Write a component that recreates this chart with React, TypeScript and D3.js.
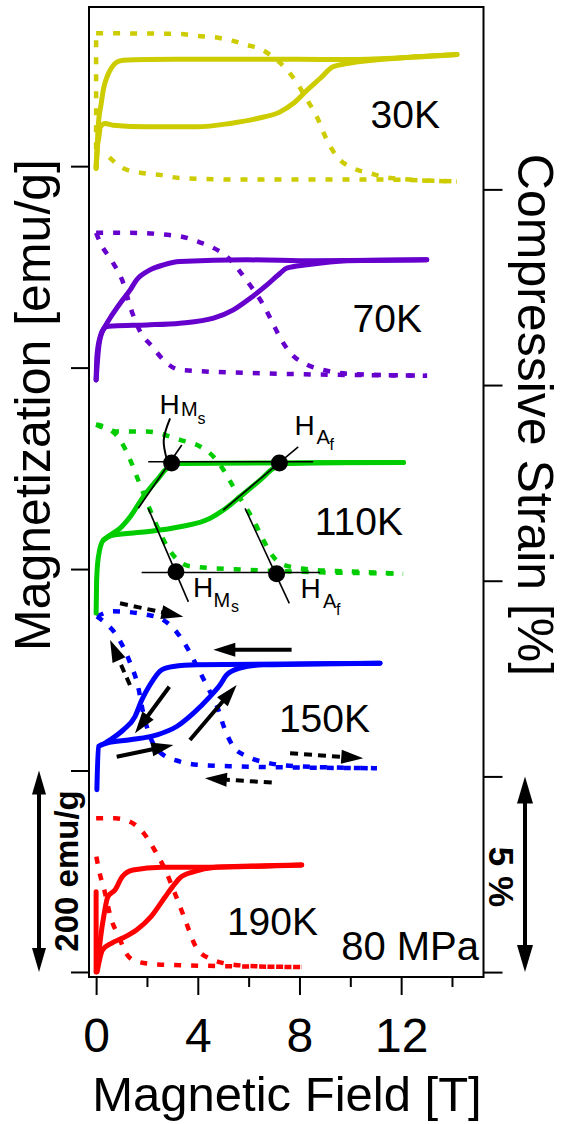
import React, { useEffect, useRef } from 'react';
import * as d3 from 'd3';

type Pt = [number, number];

// categories / offsets
const temperatures = ['30K', '70K', '110K', '150K', '190K'];
const colors = ['#cccc00', '#6600cc', '#00cc00', '#0000ff', '#ff0000'];
const magOffsets = [800, 600, 400, 200, 0]; // emu/g, stacked
const strainOffsets = [20, 15, 10, 5, 0]; // %, stacked

// ticks
const fieldMajor = [0, 4, 8, 12];
const fieldMinor = [2, 6, 10, 14];
const magTicks = [0, 200, 400, 600, 800];
const strainTicks = [0, 5, 10, 15, 20];

// magnetization [field T, M emu/g] (relative to offset)
const mag30Up: Pt[] = [[0, -2.3], [0.04, 15.9], [0.12, 30.8], [0.16, 38.7], [0.35, 42.4], [0.67, 40.7], [2.0, 39.0], [3.97, 39.0], [5.27, 42.4], [6.33, 47.3], [7.24, 53.9], [7.75, 62.2], [8.3, 75.4], [8.81, 87.0], [9.32, 98.6], [9.87, 101.9], [11.17, 105.9], [12.47, 108.5], [14.2, 110.9]];
const mag30Down: Pt[] = [[14.2, 110.9], [9.87, 105.9], [5.94, 106.2], [2.0, 105.9], [1.06, 105.2], [0.83, 103.5], [0.63, 98.6], [0.43, 88.6], [0.28, 75.4], [0.2, 62.2], [0.08, 39.0], [0.04, 15.9], [0, -2.3]];
const mag70Up: Pt[] = [[0, -12.2], [0.09, 17.6], [0.22, 34.2], [0.42, 40.8], [0.68, 41.4], [1.99, 42.4], [3.3, 44.1], [4.62, 49.1], [5.4, 57.3], [6.06, 68.8], [6.72, 82.1], [7.24, 93.7], [7.5, 98.7], [8.3, 102.0], [9.87, 106.0], [13.01, 107.0]];
const mag70Down: Pt[] = [[13.01, 107.0], [8.55, 106.0], [5.93, 107.0], [3.3, 105.3], [2.65, 102.0], [2.12, 97.0], [1.59, 87.0], [1.34, 77.1], [0.94, 63.7], [0.62, 52.0], [0.35, 40.8], [0.16, 30.9], [0.03, 10.9], [0, -12.2]];
const mag110Up: Pt[] = [[0, -43.7], [0.02, -10.9], [0.09, 12.2], [0.29, 28.8], [0.68, 33.7], [1.99, 37.0], [3.3, 42.0], [4.48, 50.3], [5.01, 58.6], [5.66, 71.8], [6.45, 88.3], [6.97, 99.9], [7.5, 104.9], [9.86, 105.9], [12.09, 105.9]];
const mag110Down: Pt[] = [[12.09, 105.9], [3.3, 104.9], [2.78, 99.9], [2.39, 88.3], [1.86, 71.8], [1.34, 51.9], [0.94, 40.4], [0.55, 33.7], [0.29, 28.8]];
const mag150Up: Pt[] = [[0.03, -19.1], [0.09, 23.8], [0.42, 27.2], [1.34, 30.5], [2.39, 35.4], [3.17, 43.7], [3.83, 57.0], [4.48, 73.4], [4.88, 85.1], [5.14, 95.0], [5.66, 101.6], [6.58, 104.9], [11.17, 106.6]];
const mag150Down: Pt[] = [[11.17, 106.6], [3.96, 104.9], [3.04, 103.2], [2.58, 99.9], [2.12, 85.1], [1.8, 70.2], [1.53, 53.6], [1.07, 40.4], [0.55, 30.5], [0.35, 27.2]];
const mag190Spike: Pt[] = [[0, 79.7], [0, 0]];
const mag190Up: Pt[] = [[0.04, 0.3], [0.25, 21.8], [0.6, 28.5], [1.02, 33.4], [1.59, 41.7], [2.16, 54.9], [2.72, 74.7], [3.01, 84.7], [3.28, 93.0], [3.85, 99.6], [4.7, 103.9], [6.11, 105.2], [8.09, 106.2]];
const mag190Down: Pt[] = [[8.09, 106.2], [3.99, 103.9], [2.58, 103.9], [1.45, 101.2], [1.03, 94.6], [0.74, 81.4], [0.46, 74.7], [0.32, 58.3], [0.18, 35.0], [0.11, 18.6], [0.01, 0.3]];

// compressive strain [field T, strain %] (relative to offset)
const str30Load: Pt[] = [[0, 0.59], [0, 3.99]];
const str30Up: Pt[] = [[0, 3.99], [3.34, 3.97], [3.98, 3.92], [4.62, 3.89], [5.34, 3.8], [5.93, 3.69], [6.52, 3.57], [6.84, 3.44], [7.5, 3.06], [7.9, 2.72], [8.3, 2.29], [8.68, 1.86], [9.08, 1.26], [9.47, 0.84], [10.12, 0.54], [10.78, 0.41], [11.57, 0.29], [14.19, 0.2]];
const str30Down: Pt[] = [[14.19, 0.2], [11.17, 0.25], [5.93, 0.25], [3.3, 0.29], [2.52, 0.37], [1.8, 0.42], [1.07, 0.54], [0.52, 0.82]];
const str70Up: Pt[] = [[0, 3.89], [1.34, 3.89], [3.3, 3.8], [3.97, 3.67], [4.6, 3.51], [5.15, 3.28], [5.66, 2.9], [6.18, 2.44], [6.53, 2.1], [6.92, 1.62], [7.24, 1.21], [7.63, 0.83], [8.3, 0.52], [8.93, 0.39], [9.87, 0.29], [13.02, 0.24]];
const str70Down: Pt[] = [[13.02, 0.24], [6.5, 0.3], [3.3, 0.39], [2.71, 0.6], [2.2, 0.99], [1.73, 1.37], [1.42, 1.85], [1.02, 2.69], [0.63, 3.16], [0.16, 3.64], [0, 3.89]];
const str110Up: Pt[] = [[0, 3.99], [0.94, 3.81], [2.0, 3.81], [3.3, 3.6], [4.09, 3.43], [4.6, 3.18], [5.0, 2.84], [5.39, 2.41], [5.78, 1.99], [6.18, 1.56], [6.57, 1.05], [6.96, 0.62], [7.36, 0.41], [8.54, 0.28], [9.87, 0.24], [12.08, 0.18]];
const str110Down: Pt[] = [[12.08, 0.18], [5.94, 0.28], [3.7, 0.37], [3.19, 0.54], [2.79, 0.88], [2.4, 1.39], [2.01, 1.99], [1.65, 2.58], [1.34, 3.09], [0.94, 3.6], [0.55, 3.86], [0, 3.99]];
const str150Up: Pt[] = [[0.03, 4.09], [0.67, 4.22], [2.0, 4.13], [2.64, 4.0], [3.19, 3.67], [3.58, 3.29], [3.97, 2.81], [4.37, 2.3], [4.76, 1.79], [5.07, 1.19], [5.39, 0.77], [5.94, 0.51], [6.73, 0.35], [7.91, 0.26], [11.05, 0.21]];
const str150Down: Pt[] = [[11.05, 0.21], [5.27, 0.26], [3.97, 0.3], [3.3, 0.38], [2.52, 0.61], [2.12, 1.02], [1.85, 1.63], [1.65, 2.3], [1.34, 2.9], [0.83, 3.58], [0.35, 3.93], [0.03, 4.09]];
const str190Up: Pt[] = [[0, 3.93], [0.74, 3.93], [1.31, 3.85], [1.87, 3.55], [2.3, 3.12], [2.72, 2.61], [3.15, 1.93], [3.5, 1.34], [3.92, 0.65], [4.42, 0.36], [5.41, 0.19], [6.68, 0.14], [8.09, 0.13]];
const str190Down: Pt[] = [[8.09, 0.13], [2.58, 0.19], [1.59, 0.27], [1.17, 0.49], [0.89, 0.91], [0.6, 1.34], [0.32, 2.1], [0.11, 2.61], [0.01, 2.95]];

const magSeries: Pt[][][] = [
  [mag30Up, mag30Down],
  [mag70Up, mag70Down],
  [mag110Up, mag110Down],
  [mag150Up, mag150Down],
  [mag190Spike, mag190Up, mag190Down],
];
const strainSeries: Pt[][][] = [
  [str30Load, str30Up, str30Down],
  [str70Up, str70Down],
  [str110Up, str110Down],
  [str150Up, str150Down],
  [str190Up, str190Down],
];

// 110K construction lines: [field, value] with absolute M (emu/g) or strain (%)
const hmsMagLine: Pt[] = [[2.05, 506.5], [8.54, 506.5]];
const hmsMagTangents: Pt[][] = [[[1.66, 460.3], [3.37, 523.1]], [[5.0, 458.6], [7.95, 521.4]]];
const hmsMagDots: Pt[] = [[2.97, 505.2], [7.21, 505.2]];
const hmsLeader: Pt[] = [[2.91, 549.6], [2.66, 528], [2.79, 508.2]];
const hmsStrainLine: Pt[] = [[1.79, 10.21], [8.81, 10.21]];
const hmsStrainTangents: Pt[][] = [[[2.05, 11.85], [3.63, 9.46]], [[5.86, 11.85], [7.6, 9.42]]];
const hmsStrainDots: Pt[] = [[3.14, 10.23], [7.1, 10.18]];

// 150K process arrows: from [field, M abs] to [field, M abs]
const arrows: { from: Pt; to: Pt; dashed: boolean }[] = [
  { from: [0.94, 366.0], to: [3.43, 352.7], dashed: true },
  { from: [1.33, 284.9], to: [0.55, 329.6], dashed: true },
  { from: [7.69, 320.0], to: [4.61, 320.0], dashed: false },
  { from: [2.88, 283.2], to: [1.53, 236.9], dashed: false },
  { from: [3.69, 230.3], to: [5.53, 284.9], dashed: false },
  { from: [0.81, 213.7], to: [3.04, 225.4], dashed: false },
  { from: [7.63, 217.1], to: [10.51, 212.1], dashed: true },
  { from: [6.91, 188.0], to: [4.28, 192.3], dashed: true },
];

const FONT = '"Liberation Sans", Arial, Helvetica, sans-serif';

function head(x1: number, y1: number, x2: number, y2: number, len: number, hw: number) {
  const dx = x2 - x1;
  const dy = y2 - y1;
  const d = Math.hypot(dx, dy);
  const ux = dx / d;
  const uy = dy / d;
  const bx = x2 - ux * len;
  const by = y2 - uy * len;
  return {
    base: [bx + ux * 2, by + uy * 2],
    poly: `${x2},${y2} ${bx - uy * hw},${by + ux * hw} ${bx + uy * hw},${by - ux * hw}`,
  };
}

// branches are monotone in field; vertical pieces are drawn straight
function branchPath(b: Pt[], fx: (v: number) => number, fy: (v: number) => number) {
  const vertical = b.every((p) => p[0] === b[0][0]);
  const pts = b[0][0] > b[b.length - 1][0] ? [...b].reverse() : b;
  return (
    d3
      .line<Pt>()
      .x((d) => fx(d[0]))
      .y((d) => fy(d[1]))
      .curve(vertical ? d3.curveLinear : d3.curveMonotoneX)(pts) || ''
  );
}

export default function App() {
  const ref = useRef<SVGSVGElement>(null);
  const width = 564;
  const height = 1124;

  const x = d3.scaleLinear([-0.28, 15.24], [89, 483.5]);
  const yM = d3.scaleLinear([-4, 958], [976, 7]);
  const yS = d3.scaleLinear([-0.1, 24.66], [976, 7]);

  useEffect(() => {
    const svg = d3.select(ref.current);

    const left = svg
      .select('.axis-left')
      .attr('transform', 'translate(89,0)')
      .call(d3.axisLeft(yM).tickValues(magTicks).tickSize(18).tickFormat(() => '') as any);
    left.select('.domain').remove();

    const right = svg
      .select('.axis-right')
      .attr('transform', 'translate(483.5,0)')
      .call(d3.axisRight(yS).tickValues(strainTicks).tickSize(19).tickFormat(() => '') as any);
    right.select('.domain').remove();

    const bottomMinor = svg
      .select('.axis-bottom-minor')
      .attr('transform', 'translate(0,977)')
      .call(d3.axisBottom(x).tickValues(fieldMinor).tickSize(10).tickFormat(() => '') as any);
    bottomMinor.select('.domain').remove();

    const bottom = svg
      .select('.axis-bottom')
      .attr('transform', 'translate(0,977)')
      .call(d3.axisBottom(x).tickValues(fieldMajor).tickSize(18).tickPadding(23).tickFormat(d3.format('d')) as any);
    bottom.select('.domain').remove();
    bottom.attr('font-size', 48).attr('font-family', FONT);
    bottom.selectAll('text').attr('fill', '#000');

    svg.selectAll('.tick line').attr('stroke', '#000').attr('stroke-width', 2);
  }, []);

  const plainM = d3.line<Pt>().x((d) => x(d[0])).y((d) => yM(d[1]));
  const plainS = d3.line<Pt>().x((d) => x(d[0])).y((d) => yS(d[1]));
  const leader = d3.line<Pt>().x((d) => x(d[0])).y((d) => yM(d[1])).curve(d3.curveCatmullRom.alpha(0.5));

  // layout for text
  const tempPos = [
    [440, 128],
    [422, 332],
    [403, 535],
    [370, 732],
    [318, 935],
  ];

  const leftBarX = 39;
  const rightBarX = 525;
  const lb1 = yM(200);
  const lb0 = yM(0);
  const rb1 = yS(5);
  const rb0 = yS(0);

  return (
    <svg
      ref={ref}
      width={width}
      height={height}
      viewBox={`0 0 ${width} ${height}`}
      style={{ position: 'absolute', left: 0, top: 0, background: '#fff' }}
    >
      <rect x={0} y={0} width={width} height={height} fill="#fff" />

      {/* strain curves (dashed) */}
      <g className="strain">
        {strainSeries.map((branches, i) =>
          branches.map((b, j) => (
            <path
              key={`s${i}-${j}`}
              d={branchPath(b, x, (v) => yS(strainOffsets[i] + v))}
              fill="none"
              stroke={colors[i]}
              strokeWidth={4.5}
              strokeDasharray="7 10"
            />
          ))
        )}
      </g>

      {/* magnetization curves (solid) */}
      <g className="mag">
        {magSeries.map((branches, i) =>
          branches.map((b, j) => (
            <path
              key={`m${i}-${j}`}
              d={branchPath(b, x, (v) => yM(magOffsets[i] + v))}
              fill="none"
              stroke={colors[i]}
              strokeWidth={5}
              strokeLinecap="round"
              strokeLinejoin="round"
            />
          ))
        )}
      </g>

      {/* 110K construction lines */}
      <g className="construction" stroke="#000" strokeWidth={1.6} fill="none">
        <path d={plainM(hmsMagLine) || ''} />
        {hmsMagTangents.map((t, i) => (
          <path key={`mt${i}`} d={plainM(t) || ''} />
        ))}
        <path d={leader(hmsLeader) || ''} strokeWidth={2} />
        <path d={plainS(hmsStrainLine) || ''} />
        {hmsStrainTangents.map((t, i) => (
          <path key={`st${i}`} d={plainS(t) || ''} />
        ))}
      </g>
      <g className="dots" fill="#000">
        {hmsMagDots.map((d, i) => (
          <circle key={`md${i}`} cx={x(d[0])} cy={yM(d[1])} r={8.5} />
        ))}
        {hmsStrainDots.map((d, i) => (
          <circle key={`sd${i}`} cx={x(d[0])} cy={yS(d[1])} r={8.5} />
        ))}
      </g>

      {/* arrows */}
      <g className="arrows">
        {arrows.map((a, i) => {
          const x1 = x(a.from[0]);
          const y1 = yM(a.from[1]);
          const x2 = x(a.to[0]);
          const y2 = yM(a.to[1]);
          const h = head(x1, y1, x2, y2, 22, 7);
          return (
            <g key={`a${i}`}>
              <line
                x1={x1}
                y1={y1}
                x2={h.base[0]}
                y2={h.base[1]}
                stroke="#000"
                strokeWidth={4}
                strokeDasharray={a.dashed ? '8 6' : undefined}
              />
              <polygon points={h.poly} fill="#000" />
            </g>
          );
        })}
      </g>

      {/* frame */}
      <rect x={89} y={7} width={394.5} height={970} fill="none" stroke="#000" strokeWidth={2} />
      <g className="axis-left" />
      <g className="axis-right" />
      <g className="axis-bottom-minor" />
      <g className="axis-bottom" />

      {/* scale bars */}
      <g className="scale-bars" fill="#000">
        <line x1={leftBarX} x2={leftBarX} y1={lb1 + 20} y2={lb0 - 20} stroke="#000" strokeWidth={4} />
        <polygon points={`${leftBarX},${lb1} ${leftBarX - 7},${lb1 + 24} ${leftBarX + 7},${lb1 + 24}`} />
        <polygon points={`${leftBarX},${lb0} ${leftBarX - 7},${lb0 - 24} ${leftBarX + 7},${lb0 - 24}`} />
        <line x1={rightBarX} x2={rightBarX} y1={rb1 + 22} y2={rb0 - 22} stroke="#000" strokeWidth={4} />
        <polygon points={`${rightBarX},${rb1} ${rightBarX - 8},${rb1 + 27} ${rightBarX + 8},${rb1 + 27}`} />
        <polygon points={`${rightBarX},${rb0} ${rightBarX - 8},${rb0 - 27} ${rightBarX + 8},${rb0 - 27}`} />
      </g>

      <g fontFamily={FONT} fill="#000">
        {temperatures.map((t, i) => (
          <text key={t} x={tempPos[i][0]} y={tempPos[i][1]} fontSize={39} textAnchor="end">
            {t}
          </text>
        ))}
        <text x={479} y={960} fontSize={40} textAnchor="end">
          80 MPa
        </text>

        {/* H_Ms / H_Af labels */}
        <text x={159.5} y={414} fontSize={28}>H</text>
        <text x={181} y={416} fontSize={20}>M</text>
        <text x={197.5} y={424} fontSize={16}>s</text>
        <text x={294.5} y={435} fontSize={28}>H</text>
        <text x={316.5} y={444} fontSize={20}>A</text>
        <text x={329.5} y={450} fontSize={16}>f</text>
        <text x={193} y={597} fontSize={28}>H</text>
        <text x={213.5} y={607} fontSize={20}>M</text>
        <text x={231} y={612} fontSize={16}>s</text>
        <text x={300.5} y={598} fontSize={28}>H</text>
        <text x={323} y={608} fontSize={20}>A</text>
        <text x={336} y={615} fontSize={16}>f</text>

        {/* scale bar labels */}
        <text transform="translate(78,871) rotate(-90)" fontSize={33} fontWeight="bold" textAnchor="middle">
          200 emu/g
        </text>
        <text transform="translate(489,877) rotate(90)" fontSize={35} fontWeight="bold" textAnchor="middle">
          5 %
        </text>

        {/* axis titles */}
        <text x={287} y={1111} fontSize={49} textAnchor="middle">
          Magnetic Field [T]
        </text>
        <text transform="translate(50,405) rotate(-90)" fontSize={50} textAnchor="middle">
          Magnetization [emu/g]
        </text>
        <text transform="translate(518,415) rotate(90)" fontSize={50} textAnchor="middle">
          Compressive Strain [%]
        </text>
      </g>
    </svg>
  );
}
